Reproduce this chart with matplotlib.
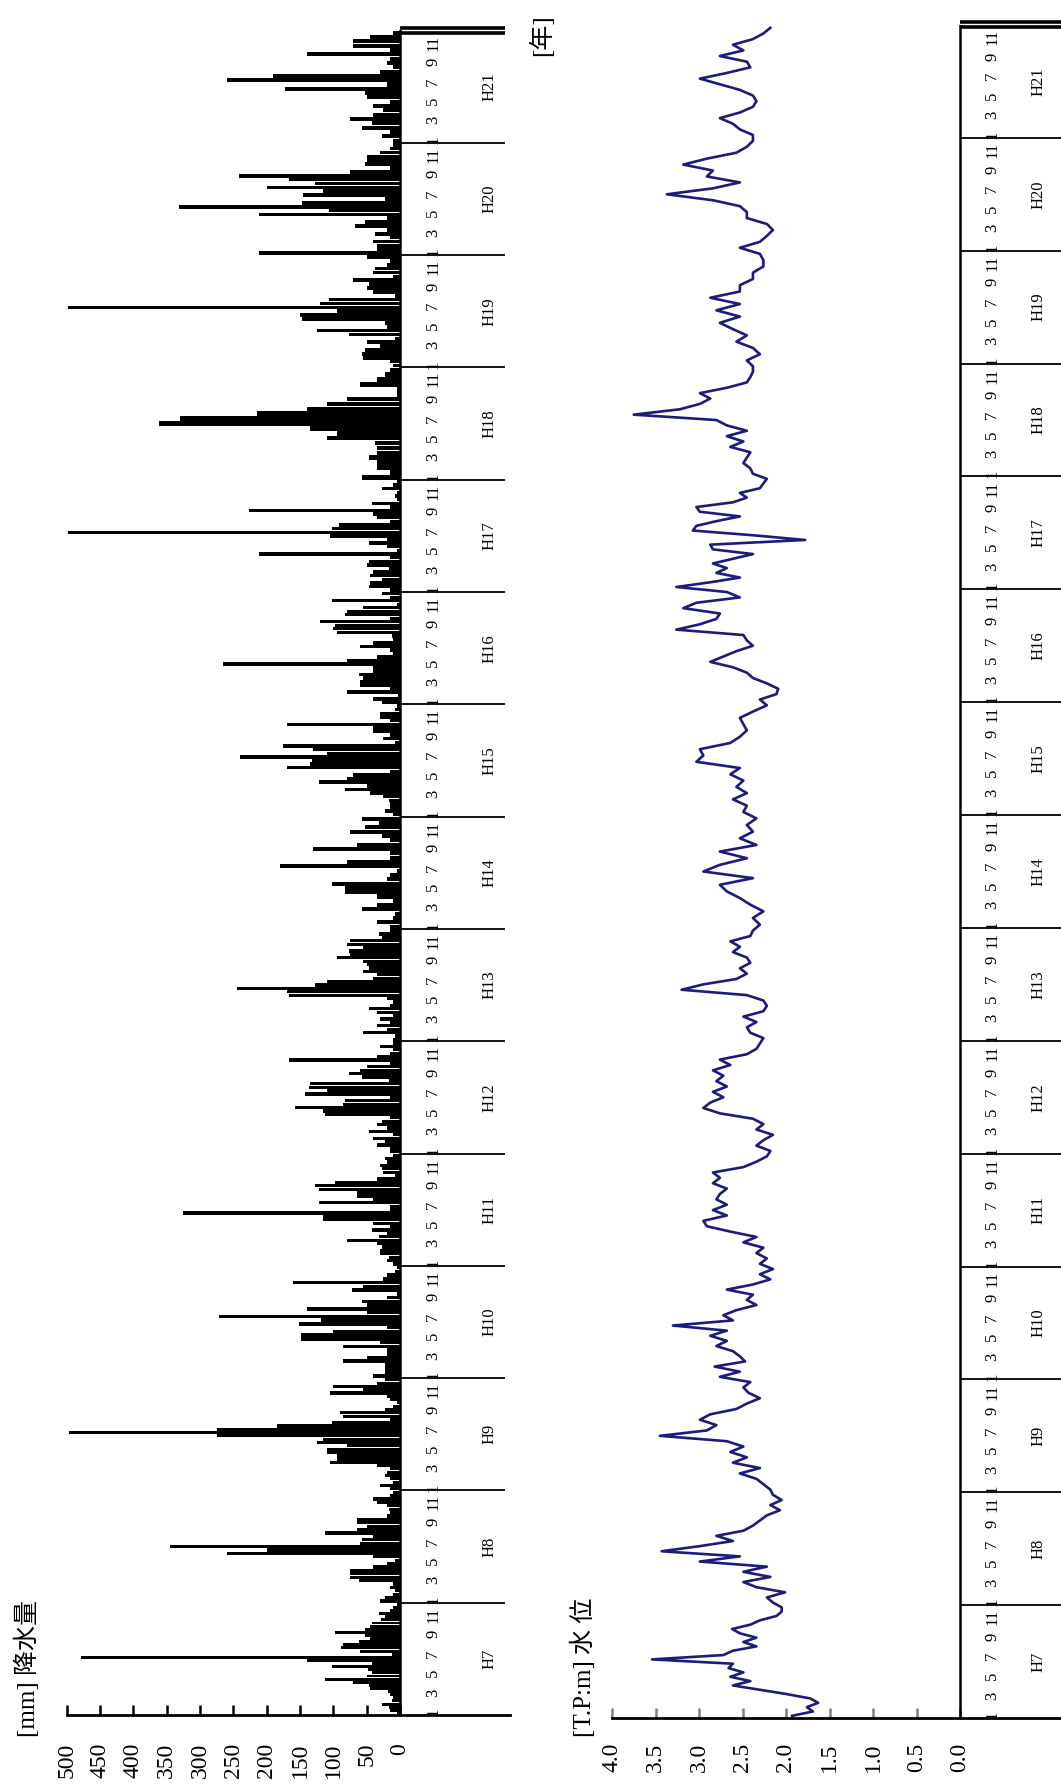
import numpy as np
import matplotlib
matplotlib.use("Agg")
import matplotlib.pyplot as plt

plt.rcParams["font.family"] = ["Liberation Serif", "Noto Sans CJK JP", "DejaVu Sans"]

W, H = 1061, 1792

# ---- categories / tick labels ----
years = ["H7", "H8", "H9", "H10", "H11", "H12", "H13", "H14",
         "H15", "H16", "H17", "H18", "H19", "H20", "H21"]
month_labels = [1, 3, 5, 7, 9, 11]
rain_ticks = [0, 50, 100, 150, 200, 250, 300, 350, 400, 450, 500]
level_ticks = [0.0, 0.5, 1.0, 1.5, 2.0, 2.5, 3.0, 3.5, 4.0]

# ---- precipitation [mm], per period, one list per year ----
rain_h7 = [5, 15, 17, 27, 12, 10, 15, 18, 45, 47, 70, 112, 50, 42, 48, 102, 42, 140,
           478, 12, 60, 88, 85, 62, 45, 52, 98, 52, 45, 42, 28, 22, 32, 15, 10, 5]
rain_h8 = [30, 22, 10, 8, 15, 10, 62, 75, 75, 75, 40, 20, 8, 40, 260, 200, 345, 60,
           57, 40, 112, 65, 50, 65, 65, 20, 15, 17, 20, 35, 40, 15, 10]
rain_h9 = [15, 30, 10, 15, 22, 20, 15, 35, 105, 95, 95, 110, 110, 80, 125, 115, 275,
           497, 275, 185, 102, 15, 85, 90, 22, 10, 5, 15, 20, 105, 55, 100, 35, 22]
rain_h10 = [40, 22, 22, 22, 85, 50, 20, 20, 85, 30, 148, 148, 100, 20, 152, 118, 272,
            50, 140, 50, 57, 20, 5, 72, 55, 160, 25, 20, 8, 5]
rain_h11 = [10, 20, 17, 30, 30, 27, 35, 80, 32, 20, 42, 15, 40, 115, 115, 325, 15, 15,
            122, 40, 65, 65, 122, 127, 97, 35, 8, 25, 27, 30, 20, 22, 10]
rain_h12 = [15, 15, 35, 22, 40, 10, 47, 20, 35, 27, 15, 112, 115, 157, 85, 82, 15, 142,
            110, 137, 135, 17, 57, 77, 60, 50, 15, 167, 35, 15, 10, 30, 10]
rain_h13 = [10, 8, 55, 20, 35, 15, 30, 10, 35, 47, 15, 10, 20, 167, 170, 245, 127, 110,
            40, 35, 55, 47, 50, 55, 95, 75, 77, 55, 80, 75, 27, 32, 15]
rain_h14 = [15, 35, 10, 8, 57, 35, 10, 35, 82, 82, 102, 20, 15, 5, 180, 80, 15, 15,
            130, 65, 15, 27, 75, 52, 32, 57]
rain_h15 = [10, 22, 15, 15, 17, 25, 45, 82, 50, 122, 80, 70, 15, 170, 135, 132, 240,
            110, 130, 175, 8, 25, 15, 40, 40, 170, 15, 30, 30, 8, 5]
rain_h16 = [27, 40, 3, 80, 15, 60, 60, 55, 62, 40, 40, 265, 80, 35, 10, 15, 60, 40, 10,
            12, 95, 100, 97, 120, 15, 82, 80, 55, 5, 102, 15, 27]
rain_h17 = [15, 47, 45, 27, 45, 40, 17, 50, 47, 15, 212, 5, 20, 47, 20, 105, 498, 102,
            92, 15, 35, 40, 227, 15, 42, 5, 8, 5, 27, 10, 5]
rain_h18 = [57, 15, 35, 35, 47, 35, 35, 37, 110, 95, 135, 362, 330, 215, 140, 110, 80,
            5, 5, 60, 35, 22, 15]
rain_h19 = [10, 15, 55, 57, 52, 30, 50, 8, 77, 125, 20, 22, 147, 150, 95, 498, 120, 107,
            8, 40, 50, 47, 70, 10, 40, 37, 20, 15, 50]
rain_h20 = [212, 35, 35, 40, 15, 37, 20, 67, 52, 20, 212, 107, 332, 147, 22, 145, 115,
            200, 127, 167, 242, 75, 15, 52, 50, 50, 30, 15, 10]
rain_h21 = [10, 27, 15, 57, 42, 75, 40, 25, 40, 15, 50, 52, 172, 20, 260, 190, 30, 10,
            20, 15, 140, 15, 70, 70, 45, 10]

# ---- water level [T.P. m], one list per year ----
level_h7 = [1.93, 1.69, 1.76, 1.63, 1.72, 1.99, 2.30, 2.61, 2.41, 2.64, 2.49, 2.66, 2.61,
            3.54, 2.72, 2.61, 2.34, 2.49, 2.34, 2.53, 2.62, 2.41, 2.30, 2.11, 2.05, 2.05]
level_h8 = [2.15, 2.22, 2.01, 2.34, 2.49, 2.18, 2.49, 2.22, 2.99, 2.53, 3.43, 2.99, 2.61,
            2.80, 2.49, 2.38, 2.30, 2.22, 2.07, 2.18, 2.05, 2.15]
level_h9 = [2.18, 2.26, 2.34, 2.53, 2.30, 2.61, 2.45, 2.64, 2.49, 2.68, 3.45, 2.91, 2.80,
            2.99, 2.87, 2.57, 2.45, 2.30, 2.43, 2.49, 2.41]
level_h10 = [2.76, 2.53, 2.82, 2.47, 2.53, 2.61, 2.80, 2.68, 2.87, 2.68, 3.30, 2.61, 2.72,
             2.57, 2.34, 2.45, 2.38, 2.68, 2.38, 2.18, 2.30, 2.15]
level_h11 = [2.30, 2.22, 2.34, 2.26, 2.49, 2.34, 2.64, 2.91, 2.95, 2.68, 2.84, 2.68, 2.80,
             2.76, 2.68, 2.84, 2.76, 2.84, 2.49, 2.34, 2.22]
level_h12 = [2.18, 2.34, 2.26, 2.15, 2.34, 2.26, 2.38, 2.76, 2.95, 2.87, 2.72, 2.84, 2.68,
             2.80, 2.72, 2.84, 2.64, 2.76, 2.45, 2.34, 2.30]
level_h13 = [2.26, 2.41, 2.45, 2.34, 2.49, 2.26, 2.22, 2.26, 2.45, 3.20, 2.95, 2.57, 2.45,
             2.53, 2.41, 2.45, 2.61, 2.53, 2.64, 2.41, 2.38]
level_h14 = [2.30, 2.38, 2.26, 2.41, 2.53, 2.68, 2.76, 2.38, 2.95, 2.76, 2.45, 2.76, 2.34,
             2.53, 2.38, 2.45, 2.34]
level_h15 = [2.49, 2.45, 2.61, 2.45, 2.57, 2.49, 2.64, 2.53, 3.03, 2.95, 2.99, 2.64, 2.53,
             2.45, 2.49, 2.53, 2.38, 2.22]
level_h16 = [2.30, 2.11, 2.09, 2.22, 2.38, 2.45, 2.61, 2.87, 2.72, 2.57, 2.38, 2.45, 2.49,
             3.26, 2.99, 2.80, 2.76, 3.18, 3.03, 2.53, 2.68]
level_h17 = [3.26, 2.87, 2.53, 2.80, 2.68, 2.84, 2.61, 2.38, 2.84, 2.87, 1.78, 2.38, 3.07,
             3.03, 2.80, 2.53, 2.99, 3.03, 2.61, 2.45, 2.53, 2.30, 2.26, 2.22]
level_h18 = [2.38, 2.41, 2.49, 2.45, 2.41, 2.64, 2.49, 2.68, 2.45, 2.68, 2.80, 3.75, 3.22,
             2.99, 2.87, 2.99, 2.68, 2.45, 2.41, 2.38, 2.38]
level_h19 = [2.45, 2.30, 2.38, 2.57, 2.45, 2.61, 2.76, 2.53, 2.80, 2.53, 2.87, 2.53, 2.53,
             2.38, 2.38, 2.26, 2.26, 2.30]
level_h20 = [2.53, 2.30, 2.22, 2.15, 2.22, 2.45, 2.45, 2.53, 2.84, 3.37, 2.84, 2.53, 2.91,
             2.84, 3.18, 2.91, 2.57, 2.45, 2.38]
level_h21 = [2.38, 2.53, 2.61, 2.76, 2.53, 2.38, 2.34, 2.38, 2.53, 2.76, 2.99, 2.68, 2.41,
             2.45, 2.76, 2.49, 2.61, 2.38, 2.26, 2.18]

rain_by_year = [rain_h7, rain_h8, rain_h9, rain_h10, rain_h11, rain_h12, rain_h13,
                rain_h14, rain_h15, rain_h16, rain_h17, rain_h18, rain_h19, rain_h20,
                rain_h21]
level_by_year = [level_h7, level_h8, level_h9, level_h10, level_h11, level_h12,
                 level_h13, level_h14, level_h15, level_h16, level_h17, level_h18,
                 level_h19, level_h20, level_h21]

n_years = len(years)


def px_rect(x0, y0, x1, y1):
    """Axes rectangle from pixel edges (y measured from the top)."""
    return [x0 / W, 1 - y1 / H, (x1 - x0) / W, (y1 - y0) / H]


def month_pos(k, m):
    return k + 0.027 + (m - 1) * 0.0866


def draw_time_box(ax, box_end, month_x, year_x, tick_color):
    # time axis drawn as a boxed strip beside the zero line
    ax.spines[["top", "left", "right"]].set_visible(False)
    ax.spines["bottom"].set_linewidth(2.0)
    ax.set_yticks([])
    ax.tick_params(axis="x", direction="in", length=7, width=1.8, color=tick_color,
                   labelrotation=90, labelsize=17)
    ax.axvline(0, color="black", lw=1.8)
    ax.hlines(np.arange(1, n_years), 0, box_end, color="black", lw=1.3)
    for dy in (-0.02, 0.025):
        ax.hlines(n_years + dy, 0, box_end, color="black", lw=2.6, clip_on=False)
    for k, name in enumerate(years):
        for m in month_labels:
            ax.text(month_x, month_pos(k, m), str(m), rotation=90, ha="center",
                    va="center", fontsize=12)
        ax.text(year_x, k + 0.5, name, rotation=90, ha="center", va="center",
                fontsize=12)


fig = plt.figure(figsize=(W / 100, H / 100), dpi=100)

# ---- precipitation panel ----
ax1 = fig.add_axes(px_rect(60, 30.5, 515, 1715))
ax1.set_xlim(510, -172.5)
ax1.set_ylim(0, n_years)
for k, vals in enumerate(rain_by_year):
    n = len(vals)
    pos = k + (np.arange(n) + 0.5) / n
    ax1.barh(pos, vals, height=0.94 / n, left=0, color="black", edgecolor="none")
ax1.set_xticks(rain_ticks)
ax1.set_xticklabels([str(v) for v in rain_ticks])
ax1.spines["bottom"].set_bounds(-165, 500)
ax1.tick_params(axis="x", pad=20)
draw_time_box(ax1, -157, -49.5, -135, "black")

# ---- water level panel ----
ax2 = fig.add_axes(px_rect(600, 25, 1061, 1718))
ax2.set_xlim((960 - 600) / 87, (960 - 1061) / 87)
ax2.set_ylim(0, n_years)
t_all, v_all = [], []
for k, vals in enumerate(level_by_year):
    n = len(vals)
    t_all.extend(k + (np.arange(n) + 0.5) / n)
    v_all.extend(vals)
ax2.plot(v_all, t_all, color="#1c1c7c", lw=1.9, solid_joinstyle="round")
ax2.set_xticks(level_ticks)
ax2.set_xticklabels([f"{v:.1f}" for v in level_ticks])
ax2.spines["bottom"].set_bounds(-1.2, 4.0)
ax2.tick_params(axis="x", pad=18)
draw_time_box(ax2, -1.2, -0.368, -0.897, "#808080")

# ---- axis titles ----
fig.text(27 / W, 1 - 1737 / H, "[mm] 降水量", rotation=90, ha="center", va="bottom",
         fontsize=18)
fig.text(583 / W, 1 - 1737 / H, "[T.P:m] 水 位", rotation=90, ha="center",
         va="bottom", fontsize=18)
fig.text(542 / W, 1 - 35 / H, "[年]", rotation=90, ha="center", va="center",
         fontsize=18)

fig.savefig("out.png", dpi=100, facecolor="white")
